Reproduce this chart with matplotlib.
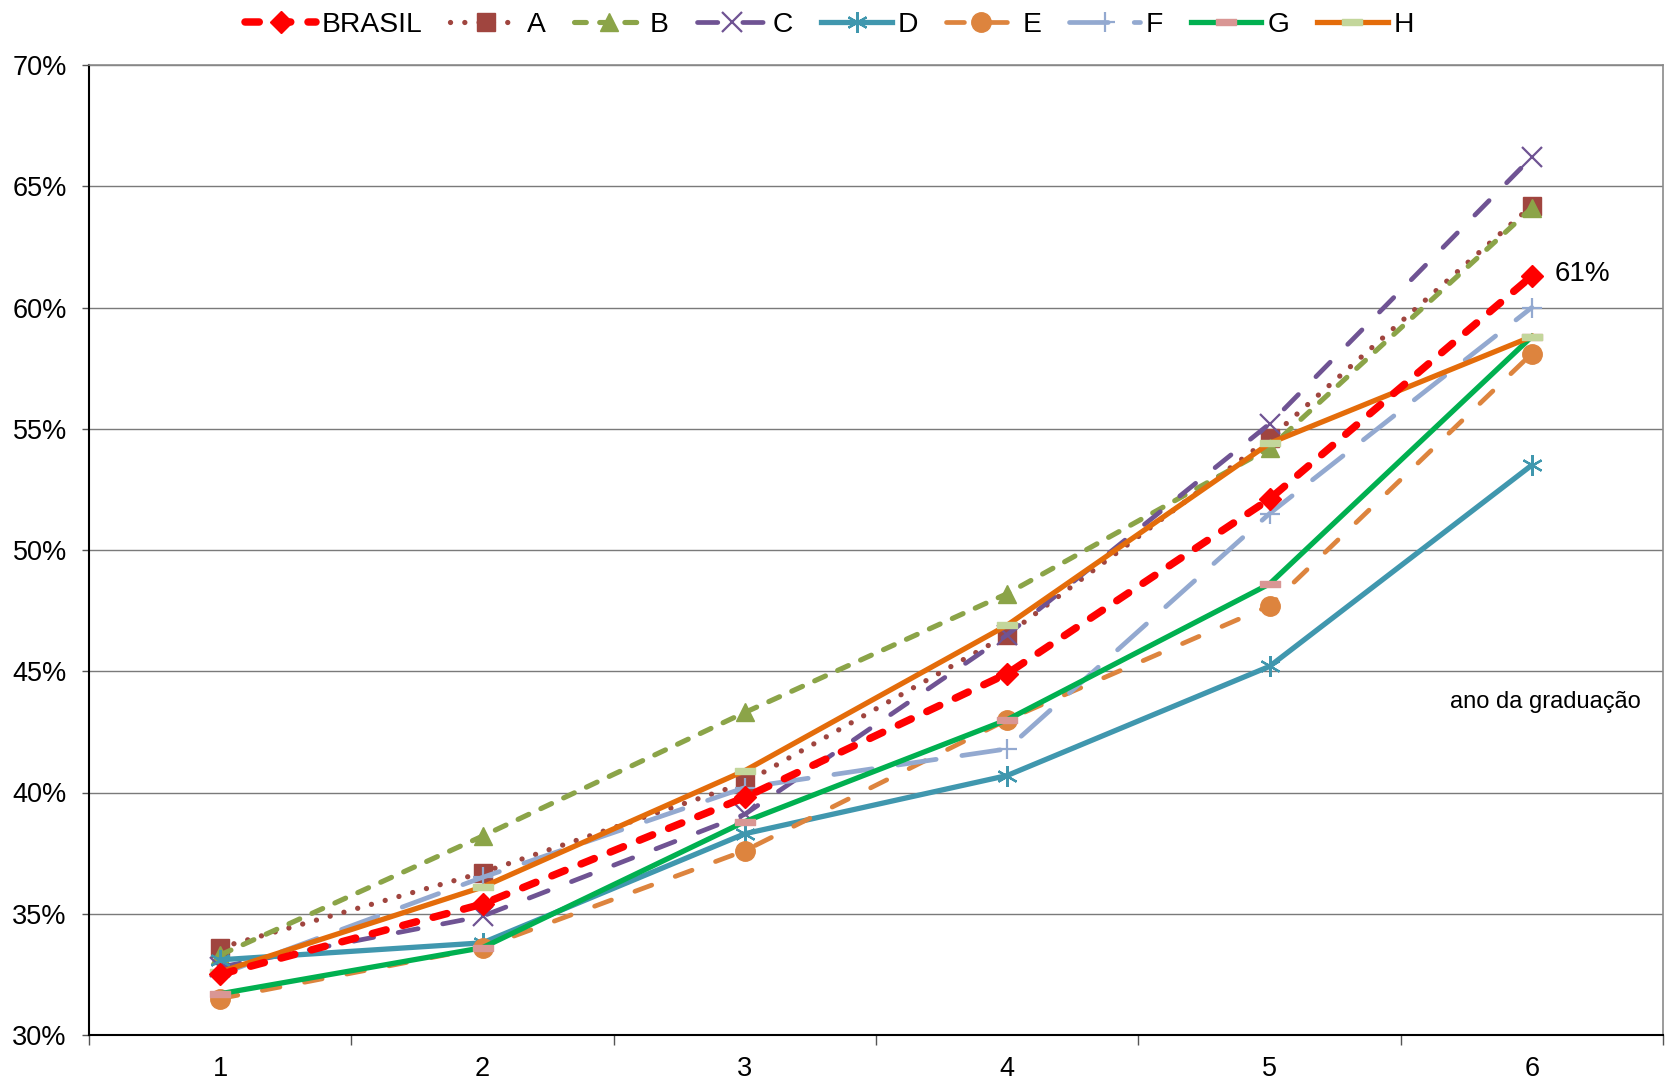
import matplotlib
matplotlib.use("Agg")
import matplotlib.pyplot as plt
from matplotlib.path import Path
from matplotlib.ticker import FixedLocator, FuncFormatter

plt.rcParams["font.family"] = ["Liberation Sans", "DejaVu Sans"]

anos = [1, 2, 3, 4, 5, 6]

brasil = [32.5, 35.4, 39.8, 44.9, 52.1, 61.3]
serie_a = [33.6, 36.7, 40.4, 46.5, 54.6, 64.2]
serie_b = [33.3, 38.2, 43.3, 48.2, 54.2, 64.1]
serie_c = [32.8, 34.9, 39.1, 46.5, 55.2, 66.2]
serie_d = [33.1, 33.8, 38.3, 40.7, 45.2, 53.5]
serie_e = [31.5, 33.6, 37.6, 43.0, 47.7, 58.1]
serie_f = [32.5, 36.5, 40.2, 41.8, 51.5, 60.0]
serie_g = [31.7, 33.6, 38.8, 43.0, 48.6, 58.8]
serie_h = [32.6, 36.1, 40.9, 46.9, 54.4, 58.8]

# marcador retangular achatado (estilo Excel)
barra = Path([(-1, -0.3), (1, -0.3), (1, 0.3), (-1, 0.3), (-1, -0.3)],
             [Path.MOVETO, Path.LINETO, Path.LINETO, Path.LINETO, Path.CLOSEPOLY])

series = [
    ("A", serie_a, dict(color="#A0453F", lw=3.8, dashes=(0.01, 2.7), marker="s", ms=13,
                        mfc="#A0453F", mec="#A0453F")),
    ("B", serie_b, dict(color="#8BA448", lw=3.7, dashes=(2.3, 2.6), marker="^", ms=13,
                        mfc="#8BA448", mec="#8BA448")),
    ("C", serie_c, dict(color="#6F5393", lw=3.4, dashes=(4.3, 5.3), marker="x", ms=14,
                        mew=1.6, mec="#6F5393")),
    ("D", serie_d, dict(color="#4097AE", lw=3.8, ls="-", marker=(6, 2, 0), ms=15,
                        mew=1.6, mec="#4097AE")),
    ("E", serie_e, dict(color="#DD843E", lw=3.4, dashes=(3.8, 5.3), marker="o", ms=14,
                        mfc="#DD843E", mec="#DD843E")),
    ("F", serie_f, dict(color="#93A9D0", lw=3.4, dashes=(8.2, 5.5), marker="+", ms=15,
                        mew=1.6, mec="#93A9D0")),
    ("G", serie_g, dict(color="#00B050", lw=3.8, ls="-", marker=barra, ms=14,
                        mfc="#D99694", mec="#D99694")),
    ("H", serie_h, dict(color="#E46C0A", lw=3.8, ls="-", marker=barra, ms=15,
                        mfc="#C3D69B", mec="#C3D69B")),
]

fig = plt.figure(figsize=(16.69, 10.88), dpi=100)
ax = fig.add_axes([89 / 1669, 1 - 1035 / 1088, (1663 - 89) / 1669, (1035 - 65) / 1088])

linhas = []
l_br, = ax.plot(anos, brasil, color="#FF0000", lw=5.4, dashes=(1.9, 2.3),
                dash_capstyle="round", marker="D", ms=11, mfc="#FF0000", mec="#FF0000",
                label="BRASIL", zorder=5)
linhas.append(l_br)
for nome, valores, estilo in series:
    ln, = ax.plot(anos, valores, label=nome, dash_capstyle="round", zorder=3, **estilo)
    linhas.append(ln)

ax.set_xlim(0.5, 6.5)
ax.set_ylim(30, 70)

ax.yaxis.set_major_locator(FixedLocator(range(30, 71, 5)))
ax.yaxis.set_major_formatter(FuncFormatter(lambda v, p: f"{v:.0f}%"))
ax.grid(axis="y", color="#7a7a7a", lw=1.0)
ax.set_axisbelow(True)

ax.set_xticks(anos)
ax.set_xticks([0.5 + i for i in range(7)], minor=True)
ax.tick_params(axis="x", which="major", length=0, pad=15, labelsize=19.5)
ax.tick_params(axis="x", which="minor", length=7, width=1, color="#555555")
ax.tick_params(axis="y", length=5, width=1, color="#555555", pad=11, labelsize=19.5)

ax.spines["left"].set_color("black")
ax.spines["left"].set_linewidth(1.5)
ax.spines["bottom"].set_color("black")
ax.spines["bottom"].set_linewidth(1.5)
ax.spines["right"].set_color("#8a8a8a")
ax.spines["right"].set_linewidth(1.2)
ax.spines["top"].set_color("#8a8a8a")
ax.spines["top"].set_linewidth(1.2)

ax.text(6.085, brasil[-1] + 0.1, "61%", fontsize=20, va="center", ha="left")
ax.text(6.05, 43.75, "ano da graduação", fontsize=17, va="center", ha="center")

fig.legend(handles=linhas, loc="upper center", bbox_to_anchor=(0.497, 1.012), ncol=9,
           frameon=False, fontsize=20.3, handlelength=2.5, handletextpad=0.2,
           columnspacing=1.0)

fig.savefig("out.png", dpi=100)
plt.close(fig)
